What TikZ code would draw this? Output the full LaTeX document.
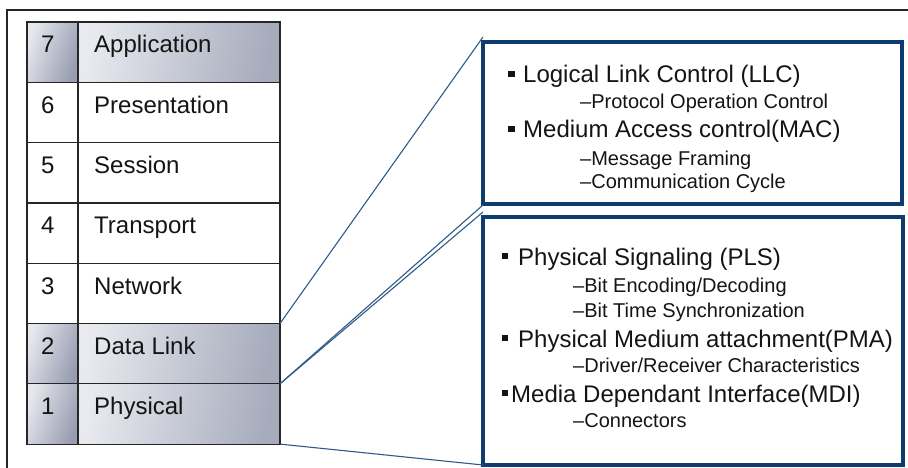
\documentclass[tikz,border=0pt]{standalone}
\usepackage{fontspec}
\setmainfont{Liberation Sans}
\definecolor{gradlight}{HTML}{E8EAEF}
\definecolor{gradmid}{HTML}{CDD0DA}
\definecolor{graddark}{HTML}{A6ABBC}
\definecolor{numlight}{HTML}{E6E8ED}
\definecolor{nummid}{HTML}{CFD2DB}
\definecolor{numdark}{HTML}{979CB0}
\definecolor{boxblue}{HTML}{0E3C6E}
\definecolor{linkblue}{HTML}{2D5A88}
\definecolor{ink}{HTML}{141414}
\begin{document}
\begin{tikzpicture}[x=1pt,y=-1pt,
  frameline/.style={line width=1.3pt, draw=black!85},
  cell/.style={draw=black!85, line width=1.2pt, inner sep=0pt, outer sep=0pt,
    anchor=north west, minimum height=60.3pt},
  numcell/.style={cell, minimum width=51pt},
  namecell/.style={cell, minimum width=202pt},
  grad num/.style={left color=numlight, middle color=nummid, right color=numdark, shading angle=70},
  grad name/.style={left color=gradlight, middle color=gradmid, right color=graddark, shading angle=80},
  flat num/.style={fill=white},
  flat name/.style={fill=white},
  layertxt/.style={anchor=base west, inner sep=0pt, text=ink,
    font=\fontsize{24}{28}\selectfont},
  infobox/.style={draw=boxblue, line width=3.5pt, inner sep=0pt, outer sep=0pt,
    anchor=north west},
  link/.style={draw=linkblue, line width=1.1pt},
  headtxt/.style={anchor=base west, inner sep=0pt, text=ink,
    font=\fontsize{24}{28}\selectfont},
  subtxt/.style={anchor=base west, inner sep=0pt, text=ink,
    font=\fontsize{20}{24}\selectfont},
  bulletsq/.style={fill=ink, inner sep=0pt, minimum width=6.5pt, minimum height=6.5pt}
]
\useasboundingbox (0,0) rectangle (908,468);

% open frame along the top and left
\coordinate (frTR) at (908,10);
\coordinate (frTL) at (7,10);
\coordinate (frBL) at (7,468);
\draw[frameline] (frTR) -- (frTL) -- (frBL);

% OSI layer stack
\foreach \n/\name/\look [count=\i from 0] in
  {7/Application/grad, 6/Presentation/flat, 5/Session/flat, 4/Transport/flat,
   3/Network/flat, 2/Data Link/grad, 1/Physical/grad}{
  \pgfmathsetmacro{\rowtop}{22+60.3*\i}
  \node[numcell, \look\space num] (n\n) at (27,\rowtop) {};
  \node[namecell, \look\space name] (l\n) at (78,\rowtop) {};
  \node[layertxt] (tn\n) at (41,\rowtop+31) {\n};
  \node[layertxt] (tl\n) at (94,\rowtop+31) {\name};
}

% detail boxes
\node[infobox, minimum width=419pt, minimum height=162pt] (dl) at (483,42) {};
\node[infobox, minimum width=420pt, minimum height=248pt] (ph) at (483,217) {};

% Data Link details
\node[bulletsq] (b1) at (511.5,74) {};
\node[headtxt] (h1) at (523,83) {Logical Link Control (LLC)};
\node[subtxt] (s1) at (580,109) {–Protocol Operation Control};
\node[bulletsq] (b2) at (511.5,129) {};
\node[headtxt] (h2) at (523,138) {Medium Access control(MAC)};
\node[subtxt] (s2) at (580,165) {–Message Framing};
\node[subtxt] (s3) at (580,189) {–Communication Cycle};

% Physical details
\node[bulletsq] (b3) at (505,256) {};
\node[headtxt] (h3) at (518,265) {Physical Signaling (PLS)};
\node[subtxt] (s4) at (573,292) {–Bit Encoding/Decoding};
\node[subtxt] (s5) at (573,317) {–Bit Time Synchronization};
\node[bulletsq] (b4) at (505,338) {};
\node[headtxt] (h4) at (518,347) {Physical Medium attachment(PMA)};
\node[subtxt] (s6) at (573,372) {–Driver/Receiver Characteristics};
\node[bulletsq] (b5) at (505,393) {};
\node[headtxt] (h5) at (511,402) {Media Dependant Interface(MDI)};
\node[subtxt] (s7) at (573,427) {–Connectors};

% zoom lines from the layers to their boxes
\draw[link] (l2.north east) -- ([yshift=5pt]dl.north west);
\draw[link] (l1.north east) -- ([yshift=-1pt]dl.south west);
\draw[link] (l1.north east) -- ([yshift=5pt]ph.north west);
\draw[link] (l1.south east) -- (ph.south west);
\end{tikzpicture}
\end{document}
